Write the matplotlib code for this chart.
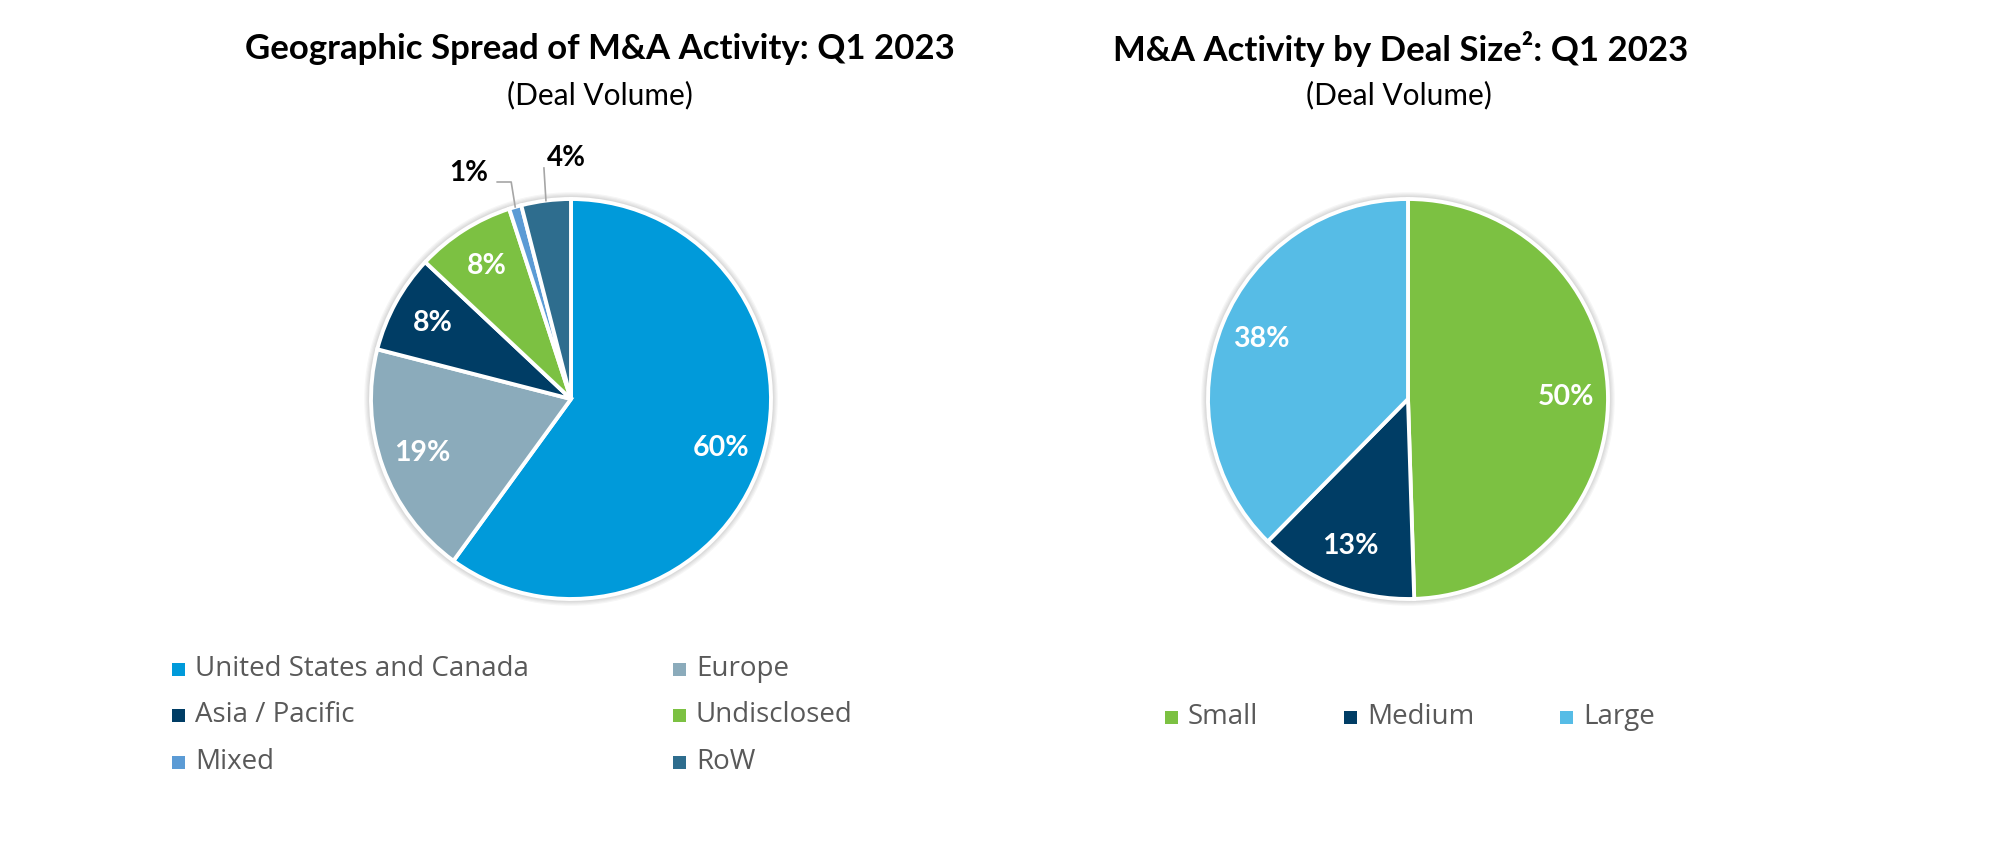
import numpy as np
import matplotlib
matplotlib.use("Agg")
import matplotlib.pyplot as plt
from matplotlib.patches import Rectangle, Circle

# data
regions = ["United States and Canada", "Europe", "Asia / Pacific", "Undisclosed", "Mixed", "RoW"]
region_share = [60, 19, 8, 8, 1, 4]
region_colors = ["#009ADA", "#8BABBB", "#003D65", "#7CC142", "#5B9BD5", "#2E6D8E"]

deal_sizes = ["Small", "Medium", "Large"]
size_share = [50, 13, 38]
size_colors = ["#7CC142", "#003D65", "#56BCE6"]

W, H = 2000, 858
TITLE_FONT = "Lato"
BODY_FONT = "Open Sans"

fig = plt.figure(figsize=(20, 8.58), dpi=100)


def px_axes(cx, cy, r=250):
    return fig.add_axes([(cx - r) / W, 1 - (cy + r) / H, 2 * r / W, 2 * r / H])


def draw_pie(ax, values, colors, outside=None):
    outside = outside or {}
    for k in range(6):  # faint shadow round the rim
        ax.add_patch(Circle((0, 0), 1.004 + k * 0.006, color="black", alpha=0.035, lw=0, zorder=0))
    wedges, _ = ax.pie(values, colors=colors, startangle=90, counterclock=False, radius=1,
                       wedgeprops=dict(edgecolor="white", linewidth=2.8))
    for i, (w, v) in enumerate(zip(wedges, values)):
        a = np.deg2rad((w.theta1 + w.theta2) / 2)
        px, py = np.cos(a), np.sin(a)
        if i in outside:
            kind = outside[i]
            if kind == "knee":
                kx, ky = px - 0.02, 1.085
                sx = kx - 0.07
                ax.plot([px, kx, sx], [py, ky, ky], color="#A6A6A6", lw=1.2, zorder=3)
                ax.text(sx - 0.045, 1.13, f"{v}%", ha="right", va="center", fontsize=20,
                        weight="bold", family=TITLE_FONT, color="black")
            else:
                ax.plot([px, px - 0.01], [py, 1.155], color="#A6A6A6", lw=1.2, zorder=3)
                ax.text(px + 0.10, 1.205, f"{v}%", ha="center", va="center", fontsize=20,
                        weight="bold", family=TITLE_FONT, color="black")
        else:
            ax.text(0.79 * px, 0.79 * py, f"{v}%", ha="center", va="center", fontsize=20.5,
                    weight="bold", family=TITLE_FONT, color="white")
    ax.set_xlim(-1.25, 1.25)
    ax.set_ylim(-1.25, 1.25)
    ax.set_aspect("equal")
    ax.axis("off")


def legend_item(x, y, color, label):
    s = 13
    fig.add_artist(Rectangle((x / W, 1 - (y + s / 2) / H), s / W, s / H, facecolor=color,
                             edgecolor="none", transform=fig.transFigure))
    fig.text((x + 23) / W, 1 - y / H, label, ha="left", va="center", fontsize=20,
             family=BODY_FONT, color="#595959")


# left chart
ax1 = px_axes(571, 399)
draw_pie(ax1, region_share, region_colors, outside={4: "knee", 5: "straight"})
fig.text(600 / W, 1 - 49 / H, "Geographic Spread of M&A Activity: Q1 2023", ha="center", va="center",
         fontsize=25, weight="bold", family=TITLE_FONT)
fig.text(600 / W, 1 - 95 / H, "(Deal Volume)", ha="center", va="center", fontsize=21.5,
         family=TITLE_FONT)
col_x = [172, 673]
row_y = [669, 715, 762]
for i, (lab, col) in enumerate(zip(regions, region_colors)):
    legend_item(col_x[i % 2], row_y[i // 2], col, lab)

# right chart
ax2 = px_axes(1408, 399)
draw_pie(ax2, size_share, size_colors)
fig.text(1401 / W, 1 - 49 / H, "M&A Activity by Deal Size²: Q1 2023", ha="center", va="center",
         fontsize=25, weight="bold", family=TITLE_FONT)
fig.text(1399 / W, 1 - 95 / H, "(Deal Volume)", ha="center", va="center", fontsize=21.5,
         family=TITLE_FONT)
size_x = [1165, 1344, 1560]
for x, lab, col in zip(size_x, deal_sizes, size_colors):
    legend_item(x, 717, col, lab)

fig.savefig("out.png", dpi=100)
